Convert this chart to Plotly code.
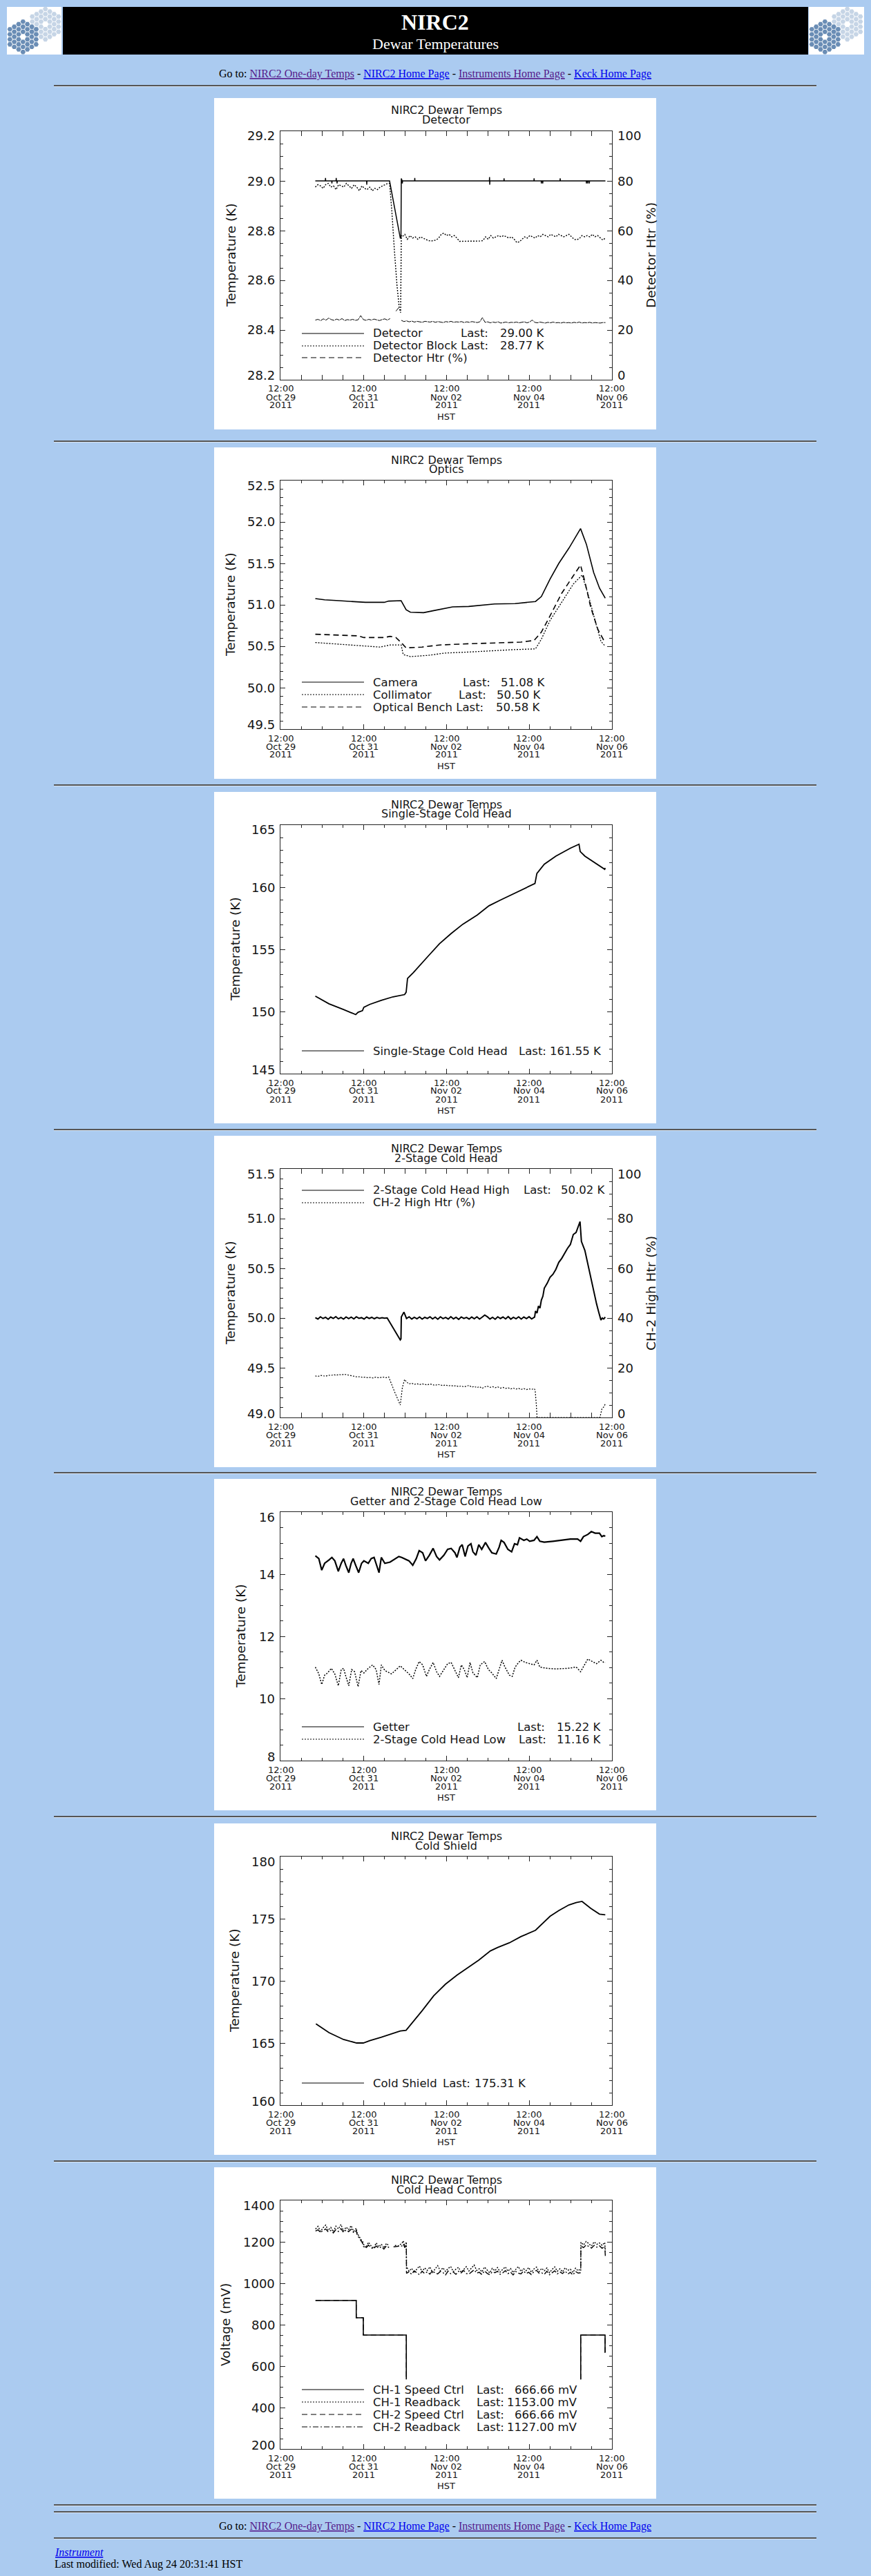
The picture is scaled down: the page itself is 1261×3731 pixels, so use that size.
import numpy as np
import pandas as pd
import plotly.graph_objects as go

W, H = 1261, 3731
BASE = pd.Timestamp("2011-10-29 12:00")   # time axis origin (HST)

# ---------------- shared time axis (hours after 12:00 Oct 29 2011) ----------------
tick_hours = [0, 48, 96, 144, 192]
tick_time = ["12:00", "12:00", "12:00", "12:00", "12:00"]
tick_day = ["Oct 29", "Oct 31", "Nov 02", "Nov 04", "Nov 06"]
tick_year = ["2011", "2011", "2011", "2011", "2011"]

# ---------------- Panel 1: Detector ----------------
det_h = [20.2, 26.0, 26.1, 26.2, 29.7, 29.8, 29.9, 32.2, 32.3, 32.4, 32.7, 32.8, 32.9,
         49.9, 50.0, 50.1, 63.2, 69.4, 69.8, 70.0, 70.5, 70.6, 70.7, 77.7, 77.8, 77.9,
         121.0, 121.1, 121.2, 121.3, 129.4, 129.5, 129.6, 146.8, 146.9, 147.0,
         151.0, 151.1, 151.2, 151.8, 151.9, 152.0, 161.9, 162.0, 162.1,
         177.1, 177.2, 177.3, 177.9, 178.0, 178.1, 178.8, 178.9, 179.0, 188.2]
det_v = [29.0, 29.0, 29.012, 29.0, 29.0, 28.99, 29.0, 29.0, 29.012, 29.0, 29.0, 28.99, 29.0,
         29.0, 28.985, 29.0, 29.0, 28.77, 28.77, 29.01, 29.0, 28.99, 29.0, 29.0, 29.012, 29.0,
         29.0, 29.015, 28.985, 29.0, 29.0, 29.01, 29.0, 29.0, 29.01, 29.0,
         29.0, 28.99, 29.0, 29.0, 28.99, 29.0, 29.0, 29.01, 29.0,
         29.0, 28.99, 29.0, 29.0, 28.99, 29.0, 29.0, 28.99, 29.0, 29.0]
blk_pre = [28.975, 28.985, 28.98, 28.97, 28.985, 28.99, 28.975, 28.98, 28.965, 28.985,
           28.98, 28.975, 28.99, 28.98, 28.97, 28.985, 28.975, 28.96, 28.98, 28.97,
           28.965, 28.975, 28.96, 28.97, 28.965, 28.975, 28.98, 28.985, 28.99]
blk_drop_h = [63.2, 64.5, 66.0, 67.5, 68.8, 69.6, 69.8, 70.0]
blk_drop_v = [28.99, 28.88, 28.72, 28.58, 28.49, 28.47, 28.62, 28.78]
blk_post = [28.775, 28.785, 28.765, 28.78, 28.77, 28.775, 28.765, 28.775, 28.77, 28.765,
            28.76, 28.758, 28.76, 28.762, 28.77, 28.785, 28.79, 28.78, 28.785, 28.775,
            28.78, 28.77, 28.757, 28.757, 28.757, 28.757, 28.757, 28.757, 28.757, 28.757,
            28.758, 28.76, 28.775, 28.765, 28.78, 28.77, 28.775, 28.78, 28.775, 28.78,
            28.775, 28.77, 28.775, 28.765, 28.752, 28.755, 28.765, 28.775, 28.77, 28.78,
            28.775, 28.77, 28.78, 28.775, 28.785, 28.78, 28.775, 28.785, 28.78, 28.775,
            28.785, 28.78, 28.775, 28.78, 28.785, 28.775, 28.765, 28.763, 28.768, 28.78,
            28.775, 28.78, 28.775, 28.785, 28.775, 28.78, 28.77, 28.762, 28.77]
htr_pre = [24.0, 24.3, 23.8, 24.5, 24.0, 24.8, 24.2, 23.9, 24.4, 24.0, 24.6, 23.8, 24.2,
           24.0, 24.3, 23.9, 24.1, 25.8, 24.2, 23.9, 24.3, 24.0, 24.4, 24.1, 23.8, 24.2,
           24.5, 24.0, 24.6]
htr_mid_h = [66.9, 68.5]
htr_mid_v = [27.6, 29.0]
htr_post = [23.9, 23.4, 23.7, 23.3, 23.6, 23.2, 23.5, 23.4, 23.1, 23.5, 23.3, 23.2, 23.5,
            23.1, 23.4, 23.3, 23.0, 23.4, 23.2, 23.5, 23.1, 23.3, 23.2, 23.4, 23.0, 23.3,
            23.1, 23.4, 23.2, 23.0, 23.3, 25.0, 23.1, 23.3, 22.9, 23.2, 23.0, 23.3, 22.8,
            23.1, 23.2, 22.9, 23.1, 23.0, 23.2, 22.9, 23.1, 23.3, 22.9, 23.2, 24.0, 23.1,
            22.9, 23.2, 23.0, 22.8, 23.1, 22.9, 23.2, 22.9, 23.0, 22.8, 23.1, 22.9, 23.0,
            22.8, 23.1, 22.9, 23.2, 22.8, 23.0, 22.9, 23.1, 22.8, 23.0, 22.9, 22.8, 23.0, 23.0]

# ---------------- Panel 2: Optics ----------------
cam_h = [20.2, 25.6, 34.0, 45.0, 49.2, 60.1, 62.7, 69.9, 71.1, 72.8, 75.3, 82.9, 88.8, 95.5,
         99.7, 109.0, 117.4, 124.1, 135.9, 141.0, 147.7, 151.1, 156.1, 161.2, 167.1, 173.8,
         177.2, 181.4, 184.8, 188.1]
cam_v = [51.075, 51.06, 51.05, 51.04, 51.03, 51.03, 51.045, 51.05, 51.00, 50.94, 50.91,
         50.905, 50.93, 50.96, 50.975, 50.98, 50.995, 51.01, 51.015, 51.025, 51.04, 51.10,
         51.31, 51.50, 51.685, 51.92, 51.73, 51.39, 51.20, 51.08]
col_h = [20.2, 29.8, 45.0, 57.6, 63.5, 69.9, 71.1, 75.3, 85.4, 95.5, 109.0, 122.4, 135.9,
         147.7, 151.1, 156.1, 162.9, 169.6, 174.7, 178.0, 182.2, 185.6, 188.1]
col_v = [50.545, 50.53, 50.51, 50.49, 50.515, 50.515, 50.40, 50.375, 50.39, 50.418, 50.43,
         50.446, 50.46, 50.468, 50.585, 50.81, 51.03, 51.25, 51.36, 51.14, 50.81, 50.56, 50.50]
ob_h = [20.2, 29.8, 45.0, 48.3, 60.1, 63.5, 66.9, 69.9, 72.8, 82.0, 92.1, 109.0, 125.8, 139.3,
        146.9, 151.1, 156.1, 162.9, 169.6, 173.8, 176.3, 179.7, 183.9, 187.3, 188.1]
ob_v = [50.645, 50.635, 50.625, 50.605, 50.605, 50.62, 50.605, 50.545, 50.48, 50.49, 50.515,
        50.53, 50.54, 50.55, 50.57, 50.67, 50.865, 51.14, 51.35, 51.48, 51.28, 50.97, 50.70,
        50.57, 50.58]

# ---------------- Panel 3: Single-Stage Cold Head ----------------
ss_h = [20.2, 28.1, 36.5, 43.6, 45.0, 47.5, 48.3, 51.7, 58.4, 65.2, 71.9, 72.8, 73.6, 77.0,
        85.4, 92.1, 98.9, 105.6, 114.0, 120.8, 127.5, 135.9, 146.0, 147.4, 148.5, 152.8,
        159.5, 167.9, 172.9, 173.6, 176.3, 181.4, 186.4, 187.8, 188.1]
ss_v = [151.24, 150.62, 150.16, 149.75, 149.94, 150.07, 150.34, 150.57, 150.9, 151.18,
        151.36, 151.55, 152.66, 153.13, 154.43, 155.45, 156.28, 157.02, 157.76, 158.51,
        158.97, 159.53, 160.21, 160.3, 161.1, 161.85, 162.5, 163.14, 163.46, 162.87, 162.5,
        162.03, 161.57, 161.44, 161.55]

# ---------------- Panel 4: 2-Stage Cold Head ----------------
hi_a = [50.005, 49.990, 50.012, 49.995, 50.008, 49.988, 50.010, 49.996, 50.014, 49.992,
        50.006, 49.989, 50.011, 49.994, 50.009, 49.991, 50.013, 49.997, 50.004, 49.990,
        50.010, 49.995, 50.007, 49.993, 50.006, 49.997, 50.003, 49.998, 50.001]
hi_drop_h = [69.4, 69.8]
hi_drop_v = [49.78, 49.79]
hi_b = [50.010, 50.060, 49.995, 50.012, 49.990, 50.008, 49.993, 50.011, 49.989, 50.007,
        49.996, 50.013, 49.991, 50.009, 49.988, 50.012, 49.994, 50.006, 49.990, 50.014,
        49.992, 50.008, 49.987, 50.011, 49.995, 50.006, 49.990, 50.010, 49.993, 50.012,
        49.989, 50.009, 50.030, 50.013, 49.990, 50.007, 49.988, 50.012, 49.995, 50.010,
        49.991, 50.014, 49.989, 50.008, 49.993, 50.012, 49.990, 50.010, 49.994, 50.013,
        49.991, 50.008]
hi_rise_h = [147.2, 147.7, 148.6, 149.4, 150.3, 151.1, 152.0, 152.8, 154.5, 156.1, 157.8,
             159.5, 161.2, 162.9, 164.5, 166.2, 167.9, 169.6, 171.2, 172.9, 173.5, 173.7,
             174.3, 176.3, 178.0, 179.7, 181.4, 183.1, 184.3, 185.6, 186.4, 187.2, 188.1]
hi_rise_v = [50.01, 50.07, 50.05, 50.12, 50.10, 50.18, 50.22, 50.30, 50.35, 50.41, 50.44,
             50.49, 50.56, 50.60, 50.65, 50.70, 50.74, 50.84, 50.86, 50.94, 50.97, 50.92,
             50.77, 50.68, 50.54, 50.40, 50.27, 50.14, 50.06, 49.98, 50.00, 49.99, 50.01]
h2_a = [16.7, 16.5, 16.9, 16.8, 16.6, 17.0, 16.9, 17.2, 17.0, 17.3, 17.1, 17.4, 17.2, 17.0,
        16.8, 16.6, 16.3, 16.4, 16.1, 16.2, 16.0, 16.1, 15.9, 16.2, 16.0, 16.1, 16.2, 16.0, 16.3]
h2_drop_h = [66.0, 69.4, 70.6, 71.9]
h2_drop_v = [10.5, 5.0, 12.0, 15.3]
h2_b = [14.3, 13.5, 13.8, 13.3, 13.6, 13.2, 13.5, 13.4, 13.1, 13.5, 13.2, 12.9, 13.3, 13.0,
        12.8, 13.1, 12.7, 12.9, 12.6, 12.8, 12.4, 12.7, 12.3, 12.6, 12.9, 12.2, 12.5, 12.0,
        12.4, 11.7, 12.3, 12.6, 12.1, 12.4, 12.0, 12.3, 11.8, 12.1, 11.7, 11.9, 11.5, 11.8,
        11.4, 11.7, 11.3, 11.6, 11.2, 11.5, 11.3, 11.6]
h2_end_h = [147.5, 148.2, 148.6, 185.0, 186.2, 187.2, 188.1]
h2_end_v = [11.0, 5.0, 0.0, 0.0, 3.5, 4.2, 5.4]

# ---------------- Panel 5: Getter and 2-Stage Cold Head Low ----------------
get_h = [20.21, 22.23, 23.92, 25.60, 28.13, 29.81, 31.49, 33.52, 35.20, 36.55, 37.89, 39.58,
         40.93, 42.11, 43.62, 45.31, 46.99, 48.34, 50.86, 52.55, 54.23, 55.41, 57.09, 58.44,
         60.46, 63.49, 68.55, 70.23, 71.92, 74.44, 76.63, 78.65, 80.34, 82.36, 84.04, 86.23,
         88.42, 90.44, 92.13, 94.65, 96.84, 98.86, 101.05, 102.23, 103.92, 105.26, 106.95,
         108.63, 110.32, 111.49, 113.18, 114.86, 116.55, 118.74, 120.76, 122.44, 124.97,
         126.65, 127.83, 129.52, 131.70, 133.89, 135.58, 137.26, 138.44, 140.97, 142.65,
         144.34, 146.86, 148.55, 150.23, 152.76, 157.81, 162.86, 167.92, 172.13, 173.81,
         175.49, 178.02, 180.04, 182.23, 184.76, 186.11, 187.28, 188.13]
get_v = [14.59, 14.50, 14.13, 14.35, 14.46, 14.54, 14.43, 14.09, 14.35, 14.50, 14.28, 14.05,
         14.35, 14.50, 14.28, 14.05, 14.35, 14.43, 14.35, 14.50, 14.54, 14.35, 14.05, 14.54,
         14.35, 14.39, 14.57, 14.54, 14.50, 14.43, 14.29, 14.50, 14.76, 14.69, 14.43, 14.61,
         14.83, 14.57, 14.46, 14.61, 14.80, 14.83, 14.69, 14.54, 14.87, 14.95, 14.57, 14.91,
         14.98, 14.72, 14.61, 14.95, 14.80, 15.02, 14.83, 14.69, 14.65, 14.87, 15.09, 15.02,
         14.80, 14.72, 14.98, 14.95, 15.17, 15.09, 15.13, 15.06, 15.09, 15.21, 15.06, 15.03,
         15.06, 15.09, 15.13, 15.13, 15.06, 15.21, 15.28, 15.37, 15.32, 15.32, 15.21, 15.24, 15.22]
low_h = [20.21, 22.23, 23.92, 25.60, 27.28, 29.47, 31.49, 33.52, 35.20, 36.55, 37.89, 39.58,
         41.26, 42.95, 44.97, 46.65, 48.34, 50.86, 53.39, 55.41, 57.09, 58.44, 60.46, 64.34,
         69.39, 71.92, 74.44, 76.63, 78.32, 80.34, 82.36, 84.55, 86.23, 88.42, 90.44, 92.13,
         94.65, 96.84, 98.86, 101.39, 103.07, 104.76, 106.44, 108.13, 109.81, 111.49, 114.02,
         115.71, 118.23, 120.42, 122.44, 124.97, 126.65, 128.34, 130.02, 132.55, 134.23,
         135.92, 137.94, 139.28, 141.81, 144.34, 146.86, 148.55, 150.23, 154.44, 159.49,
         166.23, 171.28, 173.81, 176.00, 178.02, 180.55, 183.07, 185.60, 187.28, 188.13]
low_v = [11.01, 10.79, 10.45, 10.75, 10.82, 10.97, 10.79, 10.41, 10.93, 10.97, 10.71, 10.41,
         10.93, 10.86, 10.38, 10.90, 10.82, 10.97, 11.08, 10.93, 10.45, 11.08, 10.90, 10.79,
         11.05, 10.93, 10.79, 10.64, 10.93, 11.19, 11.08, 10.71, 10.93, 11.16, 10.86, 10.71,
         10.93, 11.12, 11.16, 10.86, 10.67, 11.08, 10.93, 10.67, 11.16, 10.82, 10.67, 11.08,
         11.19, 10.93, 10.82, 10.64, 10.93, 11.23, 11.01, 10.75, 10.71, 11.01, 11.16, 11.23,
         11.16, 11.12, 11.08, 11.23, 11.01, 10.97, 10.95, 10.97, 11.01, 10.86, 11.08, 11.27,
         11.19, 11.12, 11.23, 11.16, 11.16]

# ---------------- Panel 6: Cold Shield ----------------
cs_h = [20.55, 28.13, 36.55, 44.13, 48.0, 51.71, 58.44, 65.18, 69.39, 72.76, 76.13, 82.02,
        88.76, 95.49, 102.23, 108.97, 114.86, 121.6, 125.81, 132.55, 139.28, 147.71, 151.07,
        156.13, 161.18, 167.07, 171.28, 174.65, 179.71, 184.76, 188.13]
cs_v = [166.54, 165.83, 165.28, 165.0, 165.0, 165.19, 165.46, 165.78, 165.96, 166.02, 166.57,
        167.59, 168.80, 169.72, 170.46, 171.11, 171.67, 172.41, 172.69, 173.06, 173.56,
        174.07, 174.54, 175.19, 175.65, 176.11, 176.30, 176.39, 175.83, 175.37, 175.31]

# ---------------- Panel 7: Cold Head Control ----------------
sp1_h = [20.3, 43.9, 43.9, 48.0, 48.0, 72.9, 72.9, None, 173.9, 173.9, 188.0, 188.0, 188.2]
sp1_v = [916.66, 916.66, 833.33, 833.33, 750.0, 750.0, 536.0, None, 536.0, 750.0, 750.0, 666.66, 666.66]
sp2_h = [20.3, 43.9, 43.9, 48.0, 48.0, 72.9, 72.9, None, 173.9, 173.9, 188.0, 188.0, 188.2]
sp2_v = [916.66, 916.66, 833.33, 833.33, 750.0, 750.0, 536.0, None, 536.0, 750.0, 750.0, 666.66, 666.66]
rb1_a = [1262, 1275, 1250, 1268, 1281, 1255, 1270, 1248, 1276, 1262, 1284, 1252, 1271, 1259, 1278, 1250, 1266]
rb1_t_h = [44.5, 45.5, 46.5, 47.5]
rb1_t_v = [1240, 1228, 1212, 1205]
rb1_b = [1190, 1172, 1198, 1181, 1168, 1195, 1176, 1189, 1170, 1193, 1180]
rb1_s_h = [66.3, 68.1]
rb1_s_v = [1183, 1180]
rb1_c = [1192, 1205, 1178, 1199]
rb1_d = [1080, 1058, 1072, 1050, 1069, 1083, 1055, 1074, 1062, 1079,
         1052, 1070, 1085, 1060, 1075, 1057, 1071, 1081, 1056, 1068,
         1077, 1053, 1066, 1080, 1059, 1073, 1088, 1062, 1070, 1055,
         1078, 1064, 1050, 1072, 1060, 1076, 1054, 1067, 1079, 1058,
         1071, 1052, 1068, 1081, 1057, 1070, 1061, 1076, 1053, 1069,
         1078, 1056, 1072, 1060, 1074, 1051, 1067, 1079, 1058, 1070,
         1055, 1075, 1062, 1068, 1052, 1073, 1060, 1071]
rb1_e = [1198, 1185, 1202, 1190, 1180, 1200, 1188, 1195, 1183, 1197]
rb1_f_h = [188.0, 188.2]
rb1_f_v = [1153, 1153]
rb2_a = [1252, 1258, 1245, 1256, 1262, 1248, 1255, 1243, 1259, 1250, 1264, 1246, 1257, 1249, 1261, 1244, 1254]
rb2_t_h = [44.5, 45.5, 46.5, 47.5]
rb2_t_v = [1232, 1220, 1205, 1195]
rb2_b = [1178, 1170, 1184, 1172, 1166, 1180, 1169, 1176, 1165, 1181, 1172]
rb2_s_h = [65.5, 67.2]
rb2_s_v = [1176, 1178]
rb2_c = [1180, 1190, 1172, 1186]
rb2_d = [1048, 1056, 1043, 1060, 1050, 1041, 1058, 1047, 1055, 1044,
         1061, 1049, 1045, 1057, 1052, 1040, 1059, 1046, 1054, 1043,
         1058, 1050, 1062, 1047, 1044, 1056, 1065, 1049, 1053, 1042,
         1060, 1048, 1041, 1055, 1051, 1058, 1043, 1050, 1061, 1046,
         1054, 1040, 1057, 1049, 1045, 1059, 1047, 1053, 1042, 1056,
         1062, 1048, 1050, 1043, 1058, 1041, 1052, 1060, 1045, 1055,
         1047, 1059, 1044, 1053, 1040, 1057, 1049, 1051]
rb2_e = [1180, 1172, 1185, 1176, 1170, 1183, 1174, 1181, 1169, 1178]
rb2_f_h = [188.0, 188.2]
rb2_f_v = [1127, 1127]

# ---------------- text content ----------------
subtitles = ["Detector", "Optics", "Single-Stage Cold Head", "2-Stage Cold Head",
             "Getter and 2-Stage Cold Head Low", "Cold Shield", "Cold Head Control"]
ytitles = ["Temperature (K)"] * 6 + ["Voltage (mV)"]
rtitles = {0: "Detector Htr (%)", 3: "CH-2 High Htr (%)"}
legends = [
    [("solid", "Detector", "Last:", "29.00 K"), ("dot", "Detector Block Last:", None, "28.77 K"),
     ("dash", "Detector Htr (%)", None, None)],
    [("solid", "Camera", "Last:", "51.08 K"), ("dot", "Collimator", "Last:", "50.50 K"),
     ("dash", "Optical Bench Last:", None, "50.58 K")],
    [("solid", "Single-Stage Cold Head", "Last:", "161.55 K")],
    [("solid", "2-Stage Cold Head High", "Last:", "50.02 K"), ("dot", "CH-2 High Htr (%)", None, None)],
    [("solid", "Getter", "Last:", "15.22 K"), ("dot", "2-Stage Cold Head Low", "Last:", "11.16 K")],
    [("solid", "Cold Shield", "Last:", "175.31 K")],
    [("solid", "CH-1 Speed Ctrl", "Last:", "666.66 mV"), ("dot", "CH-1 Readback", "Last:", "1153.00 mV"),
     ("dash", "CH-2 Speed Ctrl", "Last:", "666.66 mV"), ("dashdot", "CH-2 Readback", "Last:", "1127.00 mV")],
]

# ---------------- helpers ----------------
def even(t0, t1, vals):
    return list(np.linspace(t0, t1, len(vals))), list(vals)

def chain(*parts):
    hs, vs = [], []
    for p in parts:
        if p is None:
            hs.append(None); vs.append(None)
        else:
            hs += list(p[0]); vs += list(p[1])
    return hs, vs

def iso(h):
    return None if h is None else (BASE + pd.Timedelta(hours=float(h))).strftime("%Y-%m-%d %H:%M:%S")

BG = "#abcbf0"
INK = "#151515"
AX = "#222222"
CF = "DejaVu Sans"
PF = "Liberation Serif"
DASH = {"solid": "solid", "dot": "2px,2px", "dash": "8px,5px", "dashdot": "8px,3px,2px,3px"}

def px(x): return x / W
def py(y): return 1 - y / H

shapes, annos = [], []

def text(x, y, s, size, family=CF, color=INK, xanchor="center", yanchor="middle", angle=0):
    annos.append(dict(x=px(x), y=py(y), xref="paper", yref="paper", text=s, showarrow=False,
                      font=dict(size=size, family=family, color=color), xanchor=xanchor,
                      yanchor=yanchor, textangle=angle, borderpad=0))

def rect(x0, y0, x1, y1, color, layer="below"):
    shapes.append(dict(type="rect", xref="paper", yref="paper", x0=px(x0), x1=px(x1),
                       y0=py(y1), y1=py(y0), fillcolor=color, line=dict(width=0), layer=layer))

# ---------------- series per panel ----------------
series = [
    [dict(hv=(det_h, det_v), st="solid", w=1.5, r=False),
     dict(hv=chain(even(20.2, 62.2, blk_pre), (blk_drop_h, blk_drop_v), even(70.5, 188.2, blk_post)), st="dot", w=1.4, r=False),
     dict(hv=chain(even(20.2, 63.5, htr_pre), None, (htr_mid_h, htr_mid_v), None, even(70.0, 188.2, htr_post)), st="htr", w=1.0, r=True)],
    [dict(hv=(cam_h, cam_v), st="solid", w=1.6, r=False),
     dict(hv=(col_h, col_v), st="dot", w=1.3, r=False),
     dict(hv=(ob_h, ob_v), st="dash", w=1.6, r=False)],
    [dict(hv=(ss_h, ss_v), st="solid", w=1.8, r=False)],
    [dict(hv=chain(even(20.2, 61.8, hi_a), (hi_drop_h, hi_drop_v), even(70.0, 147.0, hi_b), (hi_rise_h, hi_rise_v)), st="solid", w=2.0, r=False),
     dict(hv=chain(even(20.2, 62.7, h2_a), (h2_drop_h, h2_drop_v), even(73.0, 147.0, h2_b), (h2_end_h, h2_end_v)), st="dot", w=1.2, r=True)],
    [dict(hv=(get_h, get_v), st="solid", w=2.2, r=False),
     dict(hv=(low_h, low_v), st="dot", w=1.5, r=False)],
    [dict(hv=(cs_h, cs_v), st="solid", w=1.8, r=False)],
    [dict(hv=(sp1_h, sp1_v), st="solid", w=1.6, r=False),
     dict(hv=chain(even(20.3, 43.9, rb1_a), (rb1_t_h, rb1_t_v), even(48.0, 62.9, rb1_b), None,
                   (rb1_s_h, rb1_s_v), even(70.3, 72.9, rb1_c), even(73.0, 173.9, rb1_d),
                   even(174.0, 187.8, rb1_e), (rb1_f_h, rb1_f_v)), st="dot", w=1.4, r=False),
     dict(hv=(sp2_h, sp2_v), st="dash", w=1.2, r=False),
     dict(hv=chain(even(20.3, 43.9, rb2_a), (rb2_t_h, rb2_t_v), even(48.0, 62.9, rb2_b), None,
                   (rb2_s_h, rb2_s_v), even(70.3, 72.9, rb2_c), even(73.0, 173.9, rb2_d),
                   even(174.0, 187.8, rb2_e), (rb2_f_h, rb2_f_v)), st="dashdot", w=1.4, r=False)],
]

# ---------------- layout configuration ----------------
TOPS = [142, 648, 1147, 1645, 2142, 2641, 3139]
PL, PR = 406, 886
cfg = [
    dict(lo=28.2, hi=29.2, dt=0.2, mdt=0.05, fmt="{:.1f}", ytx=334, right=(0, 100, 20, 5), leg_y=[341, 359, 376], last_x=[666, None, None], val_r=[789, 789, None]),
    dict(lo=49.5, hi=52.5, dt=0.5, mdt=0.1, fmt="{:.1f}", ytx=334, leg_y=[340, 358, 376], last_x=[669, 663, None], val_r=[790, 784, 783]),
    dict(lo=145, hi=165, dt=5, mdt=1, fmt="{:.0f}", ytx=340, leg_y=[375], last_x=[750], val_r=[872]),
    dict(lo=49.0, hi=51.5, dt=0.5, mdt=0.1, fmt="{:.1f}", ytx=333, right=(0, 100, 20, 5), leg_y=[79, 97], last_x=[757, None], val_r=[877, None]),
    dict(lo=8, hi=16, dt=2, mdt=0.5, fmt="{:.0f}", ytx=348, leg_y=[359, 377], last_x=[748, 750], val_r=[871, 871]),
    dict(lo=160, hi=180, dt=5, mdt=1, fmt="{:.0f}", ytx=339, leg_y=[376], last_x=[640], val_r=[763]),
    dict(lo=200, hi=1400, dt=200, mdt=50, fmt="{:.0f}", ytx=326, leg_y=[322, 340, 358, 376], last_x=[689] * 4, val_r=[837] * 4),
]

fig = go.Figure()
layout = dict(width=W, height=H, margin=dict(l=0, r=0, t=0, b=0), autosize=False,
              paper_bgcolor=BG, plot_bgcolor="rgba(0,0,0,0)", showlegend=False)

t0, t1 = iso(0), iso(192)

def yaxis_def(lo, hi, dt, mdt, mirror):
    return dict(range=[lo, hi], tick0=lo, dtick=dt, ticks="inside", ticklen=7, tickwidth=1,
                tickcolor=AX, showline=True, linecolor=AX, linewidth=1,
                mirror="allticks" if mirror else False, showgrid=False, zeroline=False,
                showticklabels=False, fixedrange=True,
                minor=dict(tick0=lo, dtick=mdt, ticks="inside", ticklen=4, tickwidth=1,
                           tickcolor=AX, showgrid=False))

right_axis_ids = {0: 8, 3: 9}

for k, (T, c) in enumerate(zip(TOPS, cfg)):
    n = k + 1
    xs = "" if n == 1 else str(n)
    ys = "" if n == 1 else str(n)
    layout["xaxis" + xs] = dict(domain=[px(PL), px(PR)], anchor="y" + ys, type="date",
                                range=[t0, t1], tick0=t0, dtick=2 * 86400000, ticks="inside",
                                ticklen=7, tickwidth=1, tickcolor=AX, showline=True, linecolor=AX,
                                linewidth=1, mirror="allticks", showgrid=False, zeroline=False,
                                showticklabels=False, fixedrange=True,
                                minor=dict(tick0=t0, dtick=43200000, ticks="inside", ticklen=4,
                                           tickwidth=1, tickcolor=AX, showgrid=False))
    ya = yaxis_def(c["lo"], c["hi"], c["dt"], c["mdt"], mirror=("right" not in c))
    ya["domain"] = [py(T + 408), py(T + 48)]
    ya["anchor"] = "x" + xs
    layout["yaxis" + ys] = ya
    if "right" in c:
        rlo, rhi, rdt, rmdt = c["right"]
        rid = right_axis_ids[k]
        ra = yaxis_def(rlo, rhi, rdt, rmdt, mirror=False)
        ra.update(overlaying="y" + ys, side="right", anchor="x" + xs)
        layout["yaxis%d" % rid] = ra

    # white panel
    rect(310, T, 950, T + 480, "#ffffff")

    # data
    for s in series[k]:
        hs, vs = s["hv"]
        yref = ("y%d" % right_axis_ids[k]) if s["r"] else ("y" + ys)
        dash = "7px,1px" if s["st"] == "htr" else DASH[s["st"]]
        fig.add_trace(go.Scatter(x=[iso(h) for h in hs], y=vs, mode="lines",
                                 line=dict(color="#000000", width=s["w"], dash=dash),
                                 connectgaps=False, hoverinfo="skip",
                                 xaxis="x" + xs, yaxis=yref))

    # titles
    text(646, T + 18, "NIRC2 Dewar Temps", 16)
    text(646, T + 32, subtitles[k], 16)
    # x tick labels
    for h, a, b, cyr in zip(tick_hours, tick_time, tick_day, tick_year):
        xp = PL + (PR - PL) * h / 192.0
        text(xp, T + 421, a, 13)
        text(xp, T + 433, b, 13)
        text(xp, T + 445, cyr, 13)
    text(646, T + 461, "HST", 13)
    # y tick labels
    nt = int(round((c["hi"] - c["lo"]) / c["dt"]))
    for i in range(nt + 1):
        v = c["lo"] + i * c["dt"]
        yy = T + 408 - 360.0 * i / nt
        if i == nt: yy += 7
        if i == 0: yy -= 6
        text(399, yy, c["fmt"].format(v), 18, xanchor="right")
    if "right" in c:
        rlo, rhi, rdt, _ = c["right"]
        nr = int(round((rhi - rlo) / rdt))
        for i in range(nr + 1):
            yy = T + 408 - 360.0 * i / nr
            if i == nr: yy += 7
            if i == 0: yy -= 6
            text(893, yy, "{:d}".format(rlo + i * rdt), 18, xanchor="left")
        text(942, T + 228, rtitles[k], 18.5, angle=-90)
    text(c["ytx"], T + 228, ytitles[k], 18.5, angle=-90)

    # legend
    for (st, name, lastlab, val), ly, lx, vr in zip(legends[k], c["leg_y"], c["last_x"], c["val_r"]):
        shapes.append(dict(type="line", xref="paper", yref="paper", x0=px(437), x1=px(527),
                           y0=py(T + ly), y1=py(T + ly),
                           line=dict(color="#000000", width=1.2, dash=DASH[st]), layer="above"))
        text(539, T + ly, name, 16.5, xanchor="left")
        if lastlab:
            text(lx, T + ly, lastlab, 16.5, xanchor="left")
        if val:
            text(vr, T + ly, val, 16.5, xanchor="right")

# ---------------- page chrome ----------------
rect(10, 10, 89, 79, "#ffffff")
rect(1171, 10, 1251, 79, "#ffffff")
rect(91, 10, 1170, 79, "#000000")
text(630, 32, "<b>NIRC2</b>", 32, family=PF, color="#ffffff")
text(630, 63, "Dewar Temperatures", 22, family=PF, color="#ffffff")

goto = ('Go to: <span style="color:#551a8b"><u>NIRC2 One-day Temps</u></span> - '
        '<span style="color:#0000ee"><u>NIRC2 Home Page</u></span> - '
        '<span style="color:#551a8b"><u>Instruments Home Page</u></span> - '
        '<span style="color:#0000ee"><u>Keck Home Page</u></span>')
text(630, 107, goto, 16, family=PF, color="#000000")
text(630, 3659, goto, 16, family=PF, color="#000000")
text(78, 3696, '<span style="color:#0000ee"><i><u>Instrument</u></i></span>', 16, family=PF, xanchor="left")
text(78, 3714, "Last modified: Wed Aug 24 20:31:41 HST", 16, family=PF, color="#000000", xanchor="left")

for yy in [124, 639, 1137, 1636, 2133, 2631, 3130, 3628, 3638, 3676]:
    rect(78, yy - 1, 1182, yy + 1, "#555555")
    rect(78, yy + 1, 1182, yy + 2, "#d9e6f5")

# Keck mirror logo (decorative hexagon clusters)
def cluster(cx, cy, R=4.22):
    xs, ys = [], []
    for q in range(-3, 4):
        for r in range(max(-3, -q - 3), min(3, -q + 3) + 1):
            if q == 0 and r == 0:
                continue
            xs.append(cx + 1.5 * R * q)
            ys.append(cy + np.sqrt(3) * R * (r + q / 2.0))
    return xs, ys

for ox in [0, 1161]:
    for (cx, cy, col) in [(65.7, 35.0, "#c6d5e6"), (33.3, 53.3, "#6a8db5")]:
        hx, hy = cluster(cx + ox, cy)
        fig.add_trace(go.Scatter(x=hx, y=hy, mode="markers", hoverinfo="skip",
                                 marker=dict(symbol="hexagon2", size=7.4, color=col, line=dict(width=0)),
                                 xaxis="x8", yaxis="y10", cliponaxis=True))
layout["xaxis8"] = dict(domain=[0, 1], range=[0, W], visible=False, fixedrange=True, anchor="y10")
layout["yaxis10"] = dict(domain=[0, 1], range=[H, 0], visible=False, fixedrange=True, anchor="x8")
layout["shapes"] = shapes
layout["annotations"] = annos
fig.update_layout(**layout)

fig.write_html("out.html", config={"displayModeBar": False, "staticPlot": True},
               post_script="document.body.style.margin='0px';")
